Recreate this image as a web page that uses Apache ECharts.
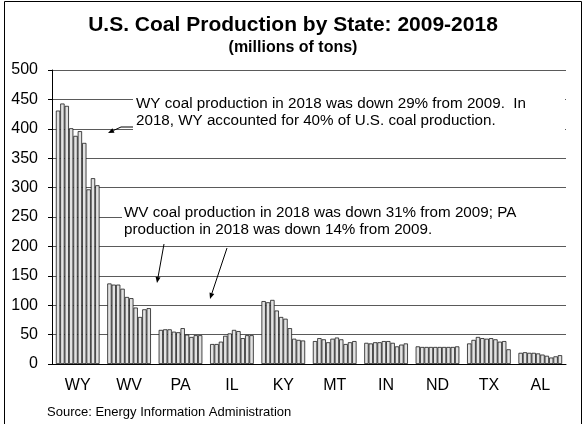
<!DOCTYPE html>
<html>
<head>
<meta charset="utf-8">
<script src="https://cdn.jsdelivr.net/npm/echarts@6/dist/echarts.min.js"></script>
<style>
  html, body { margin: 0; padding: 0; background: #fff; }
  #chart { width: 586px; height: 424px; }
</style>
</head>
<body>
<div id="chart"></div>
<script>
// states on the x axis, years are the bars inside each group
const states = ['WY', 'WV', 'PA', 'IL', 'KY', 'MT', 'IN', 'ND', 'TX', 'AL']
const years = ['2009', '2010', '2011', '2012', '2013', '2014', '2015', '2016', '2017', '2018']
const yTicks = [0, 50, 100, 150, 200, 250, 300, 350, 400, 450, 500]

// millions of tons, 2009 -> 2018
const wy = [431, 443, 439, 401, 388, 396, 376, 297, 316, 304]
const wv = [137, 135, 135, 128, 114, 112, 96, 80, 93, 95]
const pa = [58, 59, 59, 55, 54, 61, 50, 46, 49, 49]
const il = [34, 34, 38, 48, 52, 58, 56, 44, 49, 49]
const ky = [107, 105, 109, 91, 80, 77, 61, 43, 41, 40]
const mt = [39, 44, 42, 37, 43, 45, 42, 34, 37, 39]
const ind = [36, 35, 37, 37, 39, 39, 36, 30, 33, 35]
const nd = [30, 29, 29, 29, 29, 29, 29, 29, 29, 30]
const tx = [35, 41, 46, 44, 43, 44, 42, 38, 39, 25]
const al = [19, 20, 19, 19, 18, 16, 14, 11, 13, 15]

const byState = [wy, wv, pa, il, ky, mt, ind, nd, tx, al]

const FONT = 'Arial, "Liberation Sans", sans-serif'

// one series per year
const series = years.map((yr, i) => ({
  name: yr,
  type: 'bar',
  barGap: '0%',
  barCategoryGap: '15%',
  data: byState.map((s) => s[i]),
  itemStyle: { color: '#e2e2e2', borderColor: '#1a1a1a', borderWidth: 0.8 },
  silent: true
}))

function arrow(x1, y1, x2, y2) {
  // line with a small filled head at (x2, y2)
  const ang = Math.atan2(y2 - y1, x2 - x1)
  const len = 6, w = 2.5
  const bx = x2 - len * Math.cos(ang), by = y2 - len * Math.sin(ang)
  const px = -Math.sin(ang) * w, py = Math.cos(ang) * w
  return [
    { type: 'line', z: 10, shape: { x1, y1, x2: bx, y2: by }, style: { stroke: '#000', lineWidth: 1 } },
    { type: 'polygon', z: 10, shape: { points: [[x2, y2], [bx + px, by + py], [bx - px, by - py]] }, style: { fill: '#000' } }
  ]
}

const chart = echarts.init(document.getElementById('chart'))
chart.setOption({
  animation: false,
  backgroundColor: '#fff',
  title: {
    text: 'U.S. Coal Production by State: 2009-2018',
    subtext: '(millions of tons)',
    left: 'center',
    top: 10,
    itemGap: 4,
    textStyle: { fontFamily: FONT, fontSize: 21, fontWeight: 'bold', color: '#000' },
    subtextStyle: { fontFamily: FONT, fontSize: 16, fontWeight: 'bold', color: '#000' }
  },
  grid: { left: 52, right: 20, top: 70, bottom: 60 },
  xAxis: {
    type: 'category',
    data: states,
    axisLine: { lineStyle: { color: '#000', width: 1 } },
    axisTick: { show: false },
    axisLabel: { fontFamily: FONT, fontSize: 16, color: '#000', margin: 14 }
  },
  yAxis: {
    type: 'value',
    min: 0,
    max: yTicks[yTicks.length - 1],
    interval: yTicks[1] - yTicks[0],
    axisLine: { show: true, lineStyle: { color: '#000', width: 1 } },
    axisTick: { show: true, length: 4, lineStyle: { color: '#000' } },
    axisLabel: { fontFamily: FONT, fontSize: 16, color: '#000', margin: 14 },
    splitLine: { lineStyle: { color: '#5a5a5a', width: 1 } }
  },
  series: series,
  graphic: [
    { type: 'rect', z: 5, shape: { x: 133, y: 92, width: 432, height: 41 }, style: { fill: '#fff' } },
    {
      type: 'text', z: 6, x: 136, y: 95,
      style: {
        text: 'WY coal production in 2018 was down 29% from 2009.  In\n2018, WY accounted for 40% of U.S. coal production.',
        font: '15.2px ' + FONT, fill: '#000', lineHeight: 17
      }
    },
    { type: 'line', z: 10, shape: { x1: 133, y1: 127, x2: 121, y2: 127 }, style: { stroke: '#000', lineWidth: 1 } },
    ...arrow(121, 127, 108, 133),
    { type: 'rect', z: 5, shape: { x: 122, y: 201, width: 445, height: 39 }, style: { fill: '#fff' } },
    {
      type: 'text', z: 6, x: 124, y: 204,
      style: {
        text: 'WV coal production in 2018 was down 31% from 2009; PA\nproduction in 2018 was down 14% from 2009.',
        font: '15.2px ' + FONT, fill: '#000', lineHeight: 17
      }
    },
    ...arrow(164, 244, 157, 283),
    ...arrow(227, 248, 210, 299),
    {
      type: 'text', z: 6, x: 47, y: 406,
      style: { text: 'Source: Energy Information Administration', font: '13px ' + FONT, fill: '#000' }
    },
    { type: 'rect', z: 20, shape: { x: 4.5, y: 1.5, width: 577, height: 440 }, style: { fill: 'none', stroke: '#000', lineWidth: 1 } }
  ]
})
</script>
</body>
</html>
